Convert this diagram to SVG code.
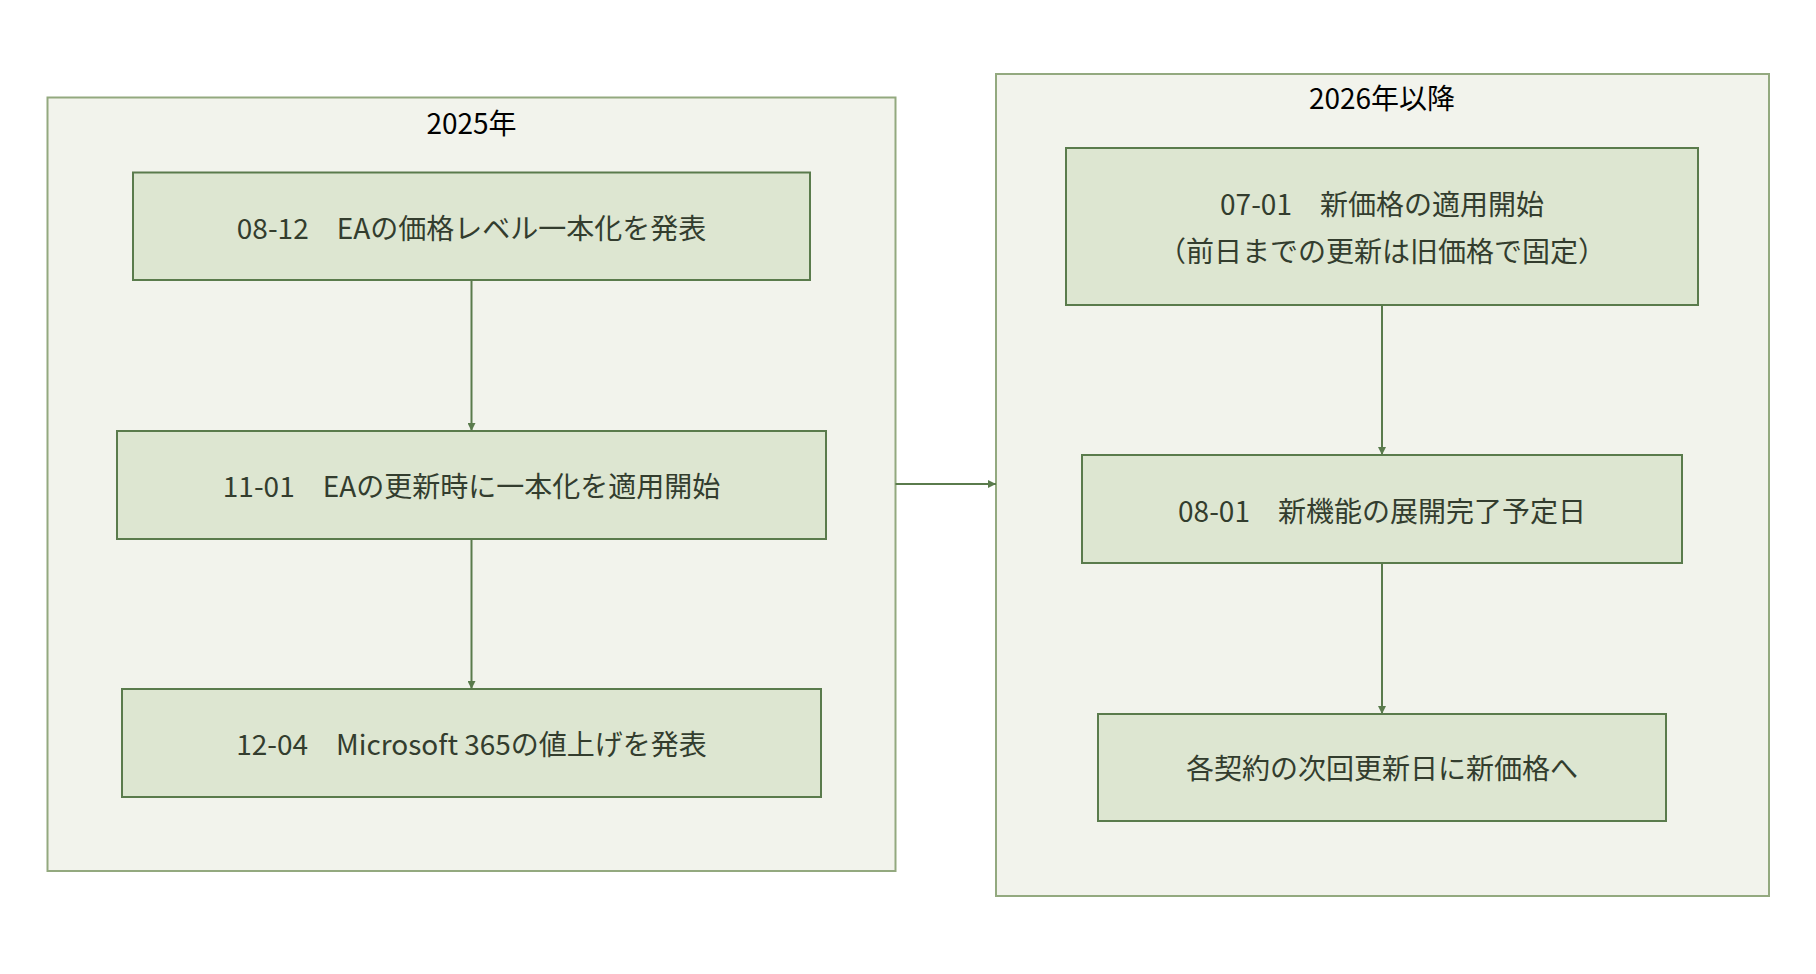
<svg xmlns="http://www.w3.org/2000/svg" width="1816" height="974" viewBox="0 0 1816 974">
<defs>
<style>
.cont{fill:#f2f3ec;stroke:#93a97f;stroke-width:2}
.node{fill:#dde6d1;stroke:#5a7b4c;stroke-width:2}
.t{font-family:"Noto Sans CJK JP","Noto Sans",sans-serif;font-size:28px;fill:#333d2e;text-anchor:middle;dominant-baseline:central}
.h{font-family:"Noto Sans CJK JP","Noto Sans",sans-serif;font-size:28px;fill:#000;text-anchor:middle;dominant-baseline:central}
.e{stroke:#5a7b4c;stroke-width:2;fill:none;marker-end:url(#a)}
</style>
<marker id="a" viewBox="0 0 10 10" refX="10" refY="5" markerWidth="8" markerHeight="8" markerUnits="userSpaceOnUse" orient="auto"><path d="M0,0L10,5L0,10z" fill="#5a7b4c"/></marker>
</defs>
<rect width="1816" height="974" fill="#fff"/>
<g id="c2025"><rect class="cont" x="47.5" y="97.5" width="848" height="773.5"/><text class="h" x="471.5" y="122">2025年</text></g>
<g id="c2026"><rect class="cont" x="996" y="74" width="773" height="822"/><text class="h" x="1382" y="97">2026年以降</text></g>
<g id="n1"><rect class="node" x="133" y="172.5" width="677" height="107.5"/><text class="t" x="471.5" y="227">08-12　EAの価格レベル一本化を発表</text></g>
<g id="n2"><rect class="node" x="117" y="431" width="709" height="108"/><text class="t" x="471.5" y="485">11-01　EAの更新時に一本化を適用開始</text></g>
<g id="n3"><rect class="node" x="122" y="689" width="699" height="108"/><text class="t" x="471.5" y="743">12-04　Microsoft 365の値上げを発表</text></g>
<g id="r1"><rect class="node" x="1066" y="148" width="632" height="157"/><text class="t" x="1382" y="203">07-01　新価格の適用開始</text><text class="t" x="1382" y="250">（前日までの更新は旧価格で固定）</text></g>
<g id="r2"><rect class="node" x="1082" y="455" width="600" height="108"/><text class="t" x="1382" y="510">08-01　新機能の展開完了予定日</text></g>
<g id="r3"><rect class="node" x="1098" y="714" width="568" height="107"/><text class="t" x="1382" y="767">各契約の次回更新日に新価格へ</text></g>
<g id="edges">
<path class="e" d="M471.5,280V431"/>
<path class="e" d="M471.5,539V689"/>
<path class="e" d="M1382,305V455"/>
<path class="e" d="M1382,563V714"/>
<path class="e" d="M895.5,484H996"/>
</g>
</svg>
